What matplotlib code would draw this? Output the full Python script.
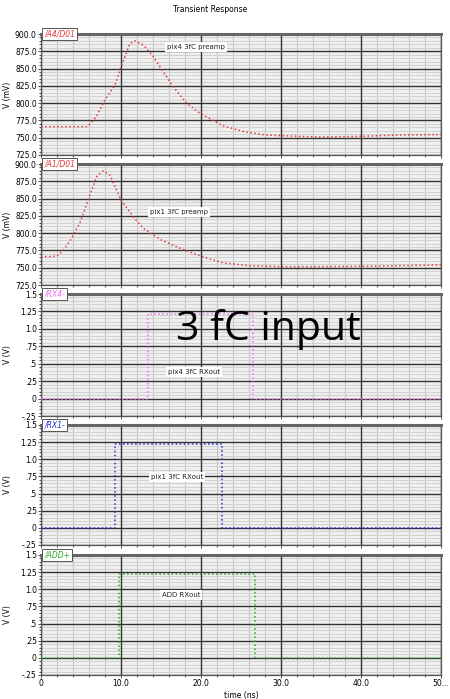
import numpy as np
import matplotlib.pyplot as plt
from matplotlib.ticker import MultipleLocator

# preamp waveforms (time in ns, value in mV)
t_pix4_pre = [0, 2, 4, 5.8, 6.9, 8.0, 9.25, 10.0, 11.1, 11.75, 12.8, 14.0, 14.9, 16.5, 18.2,
              19.9, 22.8, 25.5, 28.0, 31.0, 35.0, 40.0, 45.0, 50.0]
v_pix4_pre = [766, 766, 766, 766, 780, 805, 826, 852, 886, 890, 884, 868, 852, 824, 800,
              785, 767, 758.5, 754, 752.5, 751, 752, 754, 754.5]

t_pix1_pre = [0, 1.0, 2.0, 2.8, 3.8, 4.9, 5.9, 6.96, 7.8, 8.6, 10.0, 11.5, 12.8, 14.9, 17.4,
              19.9, 22.8, 26.0, 30.0, 35.0, 40.0, 45.0, 50.0]
v_pix1_pre = [766, 766, 767, 775, 792, 816, 848, 882, 890, 884, 848, 824, 807, 791, 778,
              767, 757, 753, 751.5, 751.5, 752, 753, 754]

# digital outputs (volts): rise / fall times in ns, high level
rx4_edges = (13.4, 26.5)
rx1_edges = (9.3, 22.6)
add_edges = (9.7, 26.7)
high_level = 1.22

tabs = ["/A4/D01", "/A1/D01", "/RX4-", "/RX1-", "/ADD+"]
notes = ["pix4 3fC preamp", "pix1 3fC preamp", "pix4 3fC RXout", "pix1 3fC RXout", "ADD RXout"]
colors = ["#e43a3a", "#e43a3a", "#f070f0", "#2a2ae0", "#2aa82a"]

mv_ticks = [725, 750, 775, 800, 825, 850, 875, 900]
mv_labels = ["725.0", "750.0", "775.0", "800.0", "825.0", "850.0", "875.0", "900.0"]
v_ticks = [-0.25, 0, 0.25, 0.5, 0.75, 1.0, 1.25, 1.5]
v_labels = ["-.25", "0", ".25", ".5", ".75", "1.0", "1.25", "1.5"]
x_ticks = [0, 10, 20, 30, 40, 50]
x_labels = ["0", "10.0", "20.0", "30.0", "40.0", "50..."]


def pulse(edges, level):
    t0, t1 = edges
    return [0, t0, t0, t1, t1, 50], [0, 0, level, level, 0, 0]


W, H = 450, 699
fig = plt.figure(figsize=(4.5, 6.99), dpi=100)
panels = [(34, 155), (164, 285), (294, 416), (425, 545), (555, 675)]
note_pos = [(15.8, 881), (13.6, 830), (15.9, 0.38), (13.75, 0.74), (15.1, 0.92)]

for i, (top, bot) in enumerate(panels):
    ax = fig.add_axes([41 / W, 1 - bot / H, 400 / W, (bot - top) / H])
    ax.set_facecolor("#efefef")
    if i < 2:
        t, v = (t_pix4_pre, v_pix4_pre) if i == 0 else (t_pix1_pre, v_pix1_pre)
        ax.plot(t, v, ls=":", lw=1.1, color=colors[i], zorder=3)
        ax.set_ylim(725, 900)
        yt, yl = mv_ticks, mv_labels
        ax.yaxis.set_minor_locator(MultipleLocator(5))
        ax.set_ylabel("V (mV)", fontsize=5.5, labelpad=1)
    else:
        edges = [rx4_edges, rx1_edges, add_edges][i - 2]
        t, v = pulse(edges, high_level)
        ax.plot(t, v, ls=":", lw=1.1, color=colors[i], zorder=3)
        ax.set_ylim(-0.25, 1.5)
        yt, yl = v_ticks, v_labels
        ax.yaxis.set_minor_locator(MultipleLocator(0.05))
        ax.set_ylabel("V (V)", fontsize=5.5, labelpad=1)
    ax.set_yticks(yt)
    ax.set_yticklabels(yl)
    ax.yaxis.set_label_coords(-0.072, 0.5)
    ax.set_xlim(0, 50)
    ax.set_xticks(x_ticks)
    ax.xaxis.set_minor_locator(MultipleLocator(2))
    if i == 4:
        ax.set_xticklabels(x_labels)
        ax.set_xlabel("time (ns)", fontsize=5.5, labelpad=2)
    else:
        ax.set_xticklabels([])
    # light minor grid, then solid major grid drawn on top of it
    ax.grid(which="minor", axis="y", color="#d2d2d2", lw=0.7)
    ax.grid(which="minor", axis="x", color="#c4c4c4", lw=0.8)
    ax.set_axisbelow(True)
    for y in yt:
        ax.axhline(y, color="#333333", lw=1.0, zorder=1)
    for x in x_ticks:
        ax.axvline(x, color="#333333", lw=1.0, zorder=1)
    ax.tick_params(labelsize=5.5, length=2, width=0.6, pad=1, color="#333333")
    ax.tick_params(which="minor", length=1.2, width=0.5)
    for s in ax.spines.values():
        s.set_color("#555555")
        s.set_linewidth(0.9)
    ax.spines["top"].set_linewidth(2.2)
    ax.spines["top"].set_color("#666666")
    ax.text(0.008, 1.0, tabs[i], transform=ax.transAxes, fontsize=5.5,
            color=colors[i], style="italic", va="center", ha="left", zorder=5,
            bbox=dict(boxstyle="square,pad=0.25", fc="white", ec="#555555", lw=0.7))
    nx, ny = note_pos[i]
    ax.text(nx, ny, notes[i], fontsize=5, color="#222222", va="center", ha="left", zorder=4,
            bbox=dict(boxstyle="square,pad=0.3", fc="white", ec="none"))

fig.text(210 / W, 1 - 9 / H, "Transient Response", fontsize=5.5, ha="center", va="center")
fig.text(268 / W, 1 - 329 / H, "3 fC input", fontsize=29.5, ha="center", va="center",
         family=["Open Sans", "DejaVu Sans"])

fig.savefig("out.png", dpi=100)
